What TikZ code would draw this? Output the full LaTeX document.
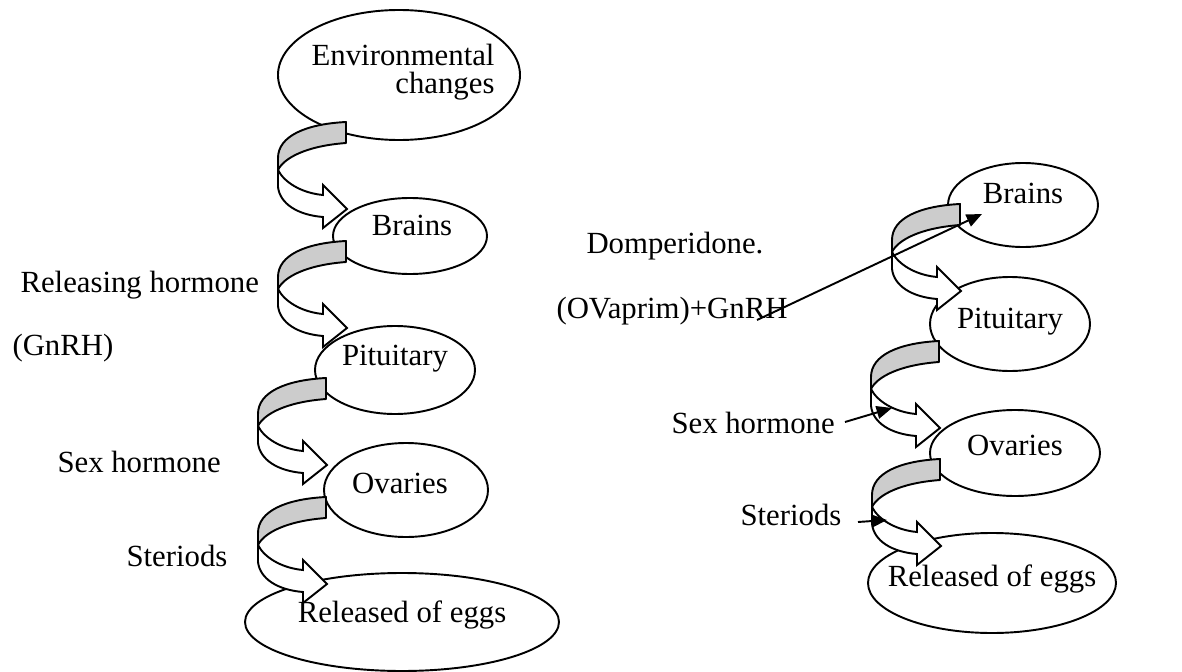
\documentclass[tikz,border=0pt]{standalone}
\usepackage{fontspec}
\setmainfont{Liberation Serif}
\usetikzlibrary{shapes.geometric,arrows.meta}
\tikzset{
  ell/.style 2 args={draw, ellipse, fill=white, line width=0.75pt, inner sep=0pt,
    minimum width={#1*0.39pt}, minimum height={#2*0.39pt}},
  lbl/.style={font=\fontsize{12}{14}\selectfont, inner sep=0pt},
  ptr/.style={-{Triangle[length=6pt,width=5pt]}, line width=0.75pt},
  backband/.style={draw, fill=gray!40, line width=0.75pt, line join=round},
  frontband/.style={draw, fill=white, line width=0.75pt},
  pics/bentarrow/.style={code={
    \path[backband] (0,0) .. controls (-40,2) and (-68,14) .. (-68,36) -- (-68,48)
      .. controls (-62,36) and (-40,24) .. (0,21) -- cycle;
    \path[frontband] (-68,48) -- (-68,65) .. controls (-66,82) and (-48,93) .. (-23,95)
      -- (-23,106) -- (1,87) -- (-23,63) -- (-23,73)
      .. controls (-45,71) and (-62,60) .. (-68,48) -- cycle;
  }}
}
\begin{document}
\begin{tikzpicture}[x=0.39pt,y=-0.39pt]
\useasboundingbox (0,0) rectangle (1182,672);
% ellipses
\node[ell={242}{130}] (envL) at (399,75) {};
\node[ell={154}{76}] (brainsL) at (410,236) {};
\node[ell={160}{88}] (pitL) at (395,370) {};
\node[ell={164}{94}] (ovL) at (406,490) {};
\node[ell={314}{98}] (eggsL) at (402,622) {};
\node[ell={150}{84}] (brainsR) at (1023,205) {};
\node[ell={160}{94}] (pitR) at (1010,324) {};
\node[ell={170}{86}] (ovR) at (1015,453) {};
\node[ell={248}{100}] (eggsR) at (992,583) {};
% curved block arrows
\begin{scope}[shift={(346,122)}] \pic {bentarrow}; \end{scope}
\begin{scope}[shift={(346,241)}] \pic {bentarrow}; \end{scope}
\begin{scope}[shift={(326,378)},xscale=0.88] \pic {bentarrow}; \end{scope}
\begin{scope}[shift={(326,497)},xscale=0.88,yscale=0.8] \pic {bentarrow}; \end{scope}
\begin{scope}[shift={(960,204)}] \pic {bentarrow}; \end{scope}
\begin{scope}[shift={(939,341)},xscale=0.88] \pic {bentarrow}; \end{scope}
\begin{scope}[shift={(940,459)},xscale=0.88,yscale=0.8] \pic {bentarrow}; \end{scope}
% texts
\node[lbl, anchor=base east] (tEnvA) at (495,65) {Environmental};
\node[lbl, anchor=base east] (tEnvB) at (495,94) {changes};
\node[lbl, anchor=base] (tBrainsL) at (412,235) {Brains};
\node[lbl, anchor=base] (tPitL) at (395,365) {Pituitary};
\node[lbl, anchor=base] (tOvL) at (400,493) {Ovaries};
\node[lbl, anchor=base] (tEggsL) at (402,622) {Released of eggs};
\node[lbl, anchor=base west] (tRel) at (20,292) {Releasing hormone};
\node[lbl, anchor=base west] (tGnRH) at (12,355) {(GnRH)};
\node[lbl, anchor=base west] (tSexL) at (57,472) {Sex hormone};
\node[lbl, anchor=base west] (tSterL) at (126,566) {Steriods};
\node[lbl, anchor=base west] (tDomp) at (586,253) {Domperidone.};
\node[lbl, anchor=base west] (tOva) at (556,318) {(OVaprim)+GnRH};
\node[lbl, anchor=base west] (tSexR) at (671,433) {Sex hormone};
\node[lbl, anchor=base west] (tSterR) at (740,525) {Steriods};
\node[lbl, anchor=base] (tBrainsR) at (1023,203) {Brains};
\node[lbl, anchor=base] (tPitR) at (1010,328) {Pituitary};
\node[lbl, anchor=base] (tOvR) at (1015,455) {Ovaries};
\node[lbl, anchor=base] (tEggsR) at (992,586) {Released of eggs};
% thin arrows
\coordinate (gA) at (757,320); \coordinate (gB) at (982,214);
\draw[ptr] (gA) -- (gB);
\coordinate (sA) at (845,422); \coordinate (sB) at (892,408);
\draw[ptr] (sA) -- (sB);
\coordinate (stA) at (858,522); \coordinate (stB) at (887,520);
\draw[ptr] (stA) -- (stB);
\end{tikzpicture}
\end{document}
